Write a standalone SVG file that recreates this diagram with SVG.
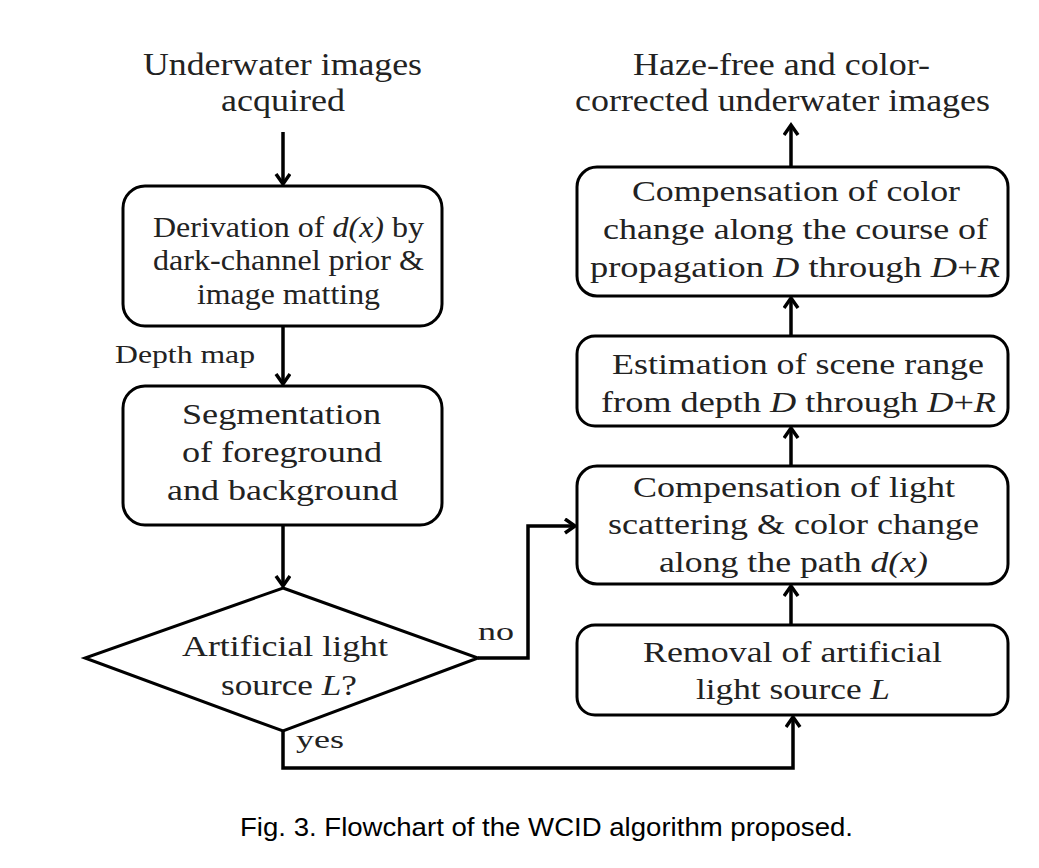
<svg xmlns="http://www.w3.org/2000/svg" width="1039" height="868" viewBox="0 0 1039 868">
<style>
.box{fill:#fff;stroke:#000;stroke-width:3}
.t{font-family:"Liberation Serif","Times New Roman",serif;font-size:29px;fill:#222}
.lab{font-family:"Liberation Serif","Times New Roman",serif;font-size:31px;fill:#222}
.sm{font-family:"Liberation Serif","Times New Roman",serif;font-size:26px;fill:#222}
.cap{font-family:"Liberation Sans",Arial,sans-serif;font-size:25px;fill:#000}
.i{font-style:italic}
.c{fill:none;stroke:#000;stroke-width:3.5}
</style>
<defs>
<marker id="ah" markerUnits="userSpaceOnUse" markerWidth="20" markerHeight="20" refX="12" refY="8" orient="auto">
<path d="M2,1 L12,8 L2,15" fill="none" stroke="#000" stroke-width="3.5"/>
</marker>
</defs>
<rect width="1039" height="868" fill="#fff"/>

<g id="start-label">
<text class="lab" x="143" y="75" textLength="279" lengthAdjust="spacingAndGlyphs">Underwater images</text>
<text class="lab" x="221" y="111" textLength="124" lengthAdjust="spacingAndGlyphs">acquired</text>
</g>
<g id="end-label">
<text class="lab" x="633" y="75" textLength="297" lengthAdjust="spacingAndGlyphs">Haze-free and color-</text>
<text class="lab" x="575" y="111" textLength="415" lengthAdjust="spacingAndGlyphs">corrected underwater images</text>
</g>

<g id="derivation">
<rect class="box" x="123" y="186" width="319" height="140" rx="22"/>
<text class="t" x="153" y="237" textLength="271" lengthAdjust="spacingAndGlyphs">Derivation of <tspan class="i">d(x)</tspan> by</text>
<text class="t" x="153" y="270" textLength="271" lengthAdjust="spacingAndGlyphs">dark-channel prior &amp;</text>
<text class="t" x="197" y="304" textLength="183" lengthAdjust="spacingAndGlyphs">image matting</text>
</g>

<g id="segmentation">
<rect class="box" x="123" y="386" width="319" height="139" rx="22"/>
<text class="t" x="182" y="424" textLength="199" lengthAdjust="spacingAndGlyphs">Segmentation</text>
<text class="t" x="182" y="462" textLength="200" lengthAdjust="spacingAndGlyphs">of foreground</text>
<text class="t" x="167" y="500" textLength="231" lengthAdjust="spacingAndGlyphs">and background</text>
</g>

<g id="decision">
<polygon class="box" points="283,588 478,658 283,731 85,658"/>
<text class="t" x="182" y="656" textLength="206" lengthAdjust="spacingAndGlyphs">Artificial light</text>
<text class="t" x="221" y="695" textLength="136" lengthAdjust="spacingAndGlyphs">source <tspan class="i">L</tspan>?</text>
</g>

<g id="removal">
<rect class="box" x="577" y="625" width="431" height="90" rx="18"/>
<text class="t" x="643" y="662" textLength="299" lengthAdjust="spacingAndGlyphs">Removal of artificial</text>
<text class="t" x="696" y="699" textLength="194" lengthAdjust="spacingAndGlyphs">light source <tspan class="i">L</tspan></text>
</g>

<g id="light-compensation">
<rect class="box" x="577" y="466" width="431" height="118" rx="20"/>
<text class="t" x="633" y="497" textLength="322" lengthAdjust="spacingAndGlyphs">Compensation of light</text>
<text class="t" x="608" y="534" textLength="371" lengthAdjust="spacingAndGlyphs">scattering &amp; color change</text>
<text class="t" x="659" y="572" textLength="269" lengthAdjust="spacingAndGlyphs">along the path <tspan class="i">d(x)</tspan></text>
</g>

<g id="estimation">
<rect class="box" x="577" y="336" width="431" height="90" rx="18"/>
<text class="t" x="612" y="374" textLength="372" lengthAdjust="spacingAndGlyphs">Estimation of scene range</text>
<text class="t" x="601" y="412" textLength="395" lengthAdjust="spacingAndGlyphs">from depth <tspan class="i">D</tspan> through <tspan class="i">D</tspan>+<tspan class="i">R</tspan></text>
</g>

<g id="color-compensation">
<rect class="box" x="577" y="167" width="431" height="129" rx="20"/>
<text class="t" x="632" y="201" textLength="328" lengthAdjust="spacingAndGlyphs">Compensation of color</text>
<text class="t" x="603" y="239" textLength="385" lengthAdjust="spacingAndGlyphs">change along the course of</text>
<text class="t" x="590" y="277" textLength="410" lengthAdjust="spacingAndGlyphs">propagation <tspan class="i">D</tspan> through <tspan class="i">D</tspan>+<tspan class="i">R</tspan></text>
</g>

<g id="connectors">
<path class="c" d="M283,132 V184" marker-end="url(#ah)"/>
<path class="c" d="M283,326 V384" marker-end="url(#ah)"/>
<path class="c" d="M283,525 V586" marker-end="url(#ah)"/>
<path class="c" d="M478,658 H528 V526 H575" marker-end="url(#ah)"/>
<path class="c" d="M283,731 V768 H793 V717" marker-end="url(#ah)"/>
<path class="c" d="M791,625 V586" marker-end="url(#ah)"/>
<path class="c" d="M791,466 V428" marker-end="url(#ah)"/>
<path class="c" d="M791,336 V298" marker-end="url(#ah)"/>
<path class="c" d="M791,167 V125" marker-end="url(#ah)"/>
<text class="sm" x="115" y="363" textLength="140" lengthAdjust="spacingAndGlyphs">Depth map</text>
<text class="sm" x="478" y="640" textLength="36" lengthAdjust="spacingAndGlyphs">no</text>
<text class="sm" x="296" y="748" textLength="48" lengthAdjust="spacingAndGlyphs">yes</text>
</g>

<text class="cap" x="240" y="836" textLength="613" lengthAdjust="spacingAndGlyphs">Fig. 3. Flowchart of the WCID algorithm proposed.</text>
</svg>
